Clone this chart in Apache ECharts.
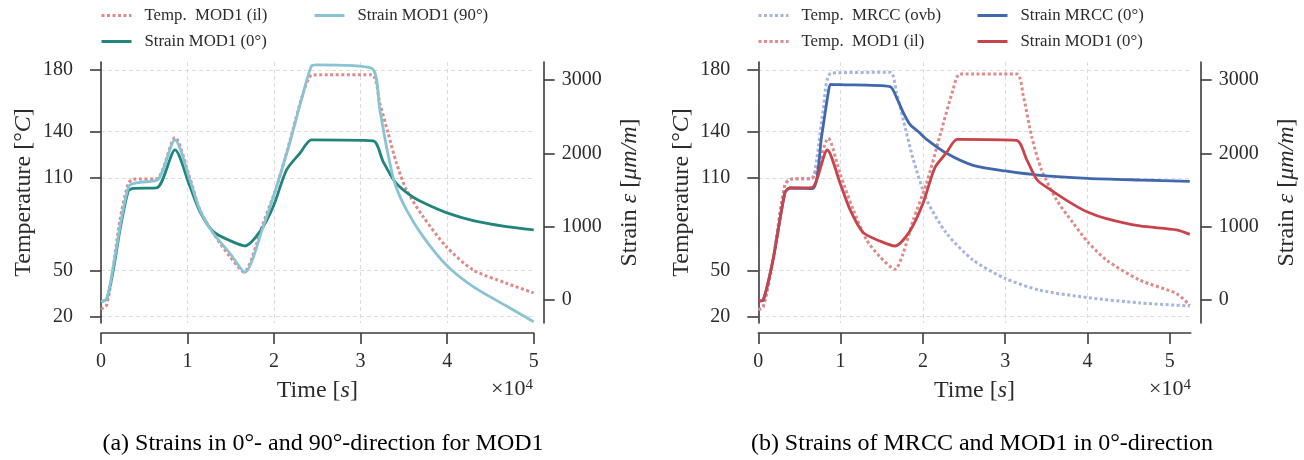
<!DOCTYPE html>
<html>
<head>
<meta charset="utf-8">
<script src="https://cdn.jsdelivr.net/npm/echarts@6/dist/echarts.min.js"></script>
<style>
  html, body { margin: 0; padding: 0; background: #fff; }
  #chart { width: 1304px; height: 460px; }
</style>
</head>
<body>
<div id="chart"></div>
<script>
// tick values
const timeTicks = [0, 10000, 20000, 30000, 40000, 50000];
const tempTicks = [20, 50, 110, 140, 180];
const strainTicks = [0, 1000, 2000, 3000];

// (a) MOD1 in 0 and 90 degree direction
const aTempTime = [0, 650, 1420, 2190, 3160, 3730, 6430, 8550, 10280, 11430, 12970, 14900, 16500, 18740, 20290, 21800, 23360, 24450, 31260, 32220, 33180, 34150, 35300, 37220, 39900, 43000, 46850, 50000];
const aTemp = [24.8, 27.6, 52.4, 82.7, 106.5, 109.1, 109.5, 136.3, 109.8, 89.2, 74.1, 58.9, 49, 80.6, 104.3, 133.5, 164.9, 176.8, 177, 158.4, 139, 119.5, 102.2, 84.9, 65.4, 50.3, 41.7, 35.4];

const aStrain0Time = [0, 650, 1420, 2190, 3160, 3730, 6430, 8550, 10280, 11430, 12970, 14900, 16630, 18360, 19900, 21440, 22980, 24330, 31450, 32600, 33950, 35680, 37220, 39900, 43000, 46850, 50000];
const aStrain0 = [-23, 9, 409, 955, 1487, 1523, 1528, 2046, 1546, 1205, 932, 809, 737, 932, 1273, 1773, 2001, 2182, 2169, 1887, 1614, 1432, 1328, 1191, 1082, 1000, 955];

const aStrain90Time = [0, 650, 1420, 2190, 2970, 3350, 4500, 6620, 8550, 10280, 11430, 12970, 14900, 16630, 18740, 20290, 21800, 23360, 24330, 24900, 31260, 32220, 32990, 33950, 35300, 37220, 39900, 43000, 46850, 50000];
const aStrain90 = [-23, 9, 455, 1000, 1455, 1569, 1605, 1646, 2182, 1637, 1228, 909, 636, 378, 1000, 1546, 2137, 2819, 3192, 3205, 3160, 2592, 2091, 1591, 1228, 864, 477, 182, -82, -296];

// (b) MRCC and MOD1 in 0 degree direction
const bTempMrccTime = [0, 600, 1800, 3240, 4050, 6480, 7090, 7900, 8900, 16000, 16800, 17600, 18830, 20450, 22870, 26100, 30000, 34200, 40000, 46360, 52430];
const bTempMrcc = [24.6, 26.3, 56.7, 105.7, 109.3, 109.6, 122, 154.6, 178, 178.5, 165.4, 148, 122, 95.9, 74.1, 56.7, 44.8, 37.2, 32.4, 28.9, 27];

const bTempModTime = [0, 600, 1800, 3240, 4050, 6480, 8500, 9900, 11540, 13160, 14780, 16600, 17600, 18830, 20450, 22060, 23680, 24500, 31380, 32200, 33200, 34400, 36230, 38260, 40000, 42300, 46360, 50800, 52430];
const bTempMod = [24.6, 26.3, 56.7, 105.7, 109.3, 109.6, 135.7, 113.3, 89.3, 69.8, 58.9, 50.7, 61, 82.8, 106.7, 137.2, 167.6, 177.4, 177.4, 163.3, 137.2, 115.4, 95.9, 80.7, 68.7, 56.7, 43.7, 35, 27.4];

const bStrainMrccTime = [0, 600, 1800, 3240, 3850, 6600, 7700, 8500, 8790, 9900, 16000, 16800, 17600, 18420, 19500, 20450, 22870, 26100, 30000, 34200, 40000, 46360, 52430];
const bStrainMrcc = [-14, 0, 554, 1463, 1527, 1518, 2236, 2827, 2941, 2936, 2909, 2760, 2560, 2395, 2290, 2191, 2000, 1836, 1759, 1700, 1659, 1636, 1618];

const bStrainModTime = [0, 600, 1800, 3240, 3850, 6480, 8380, 9920, 11130, 12750, 14780, 16600, 18420, 20040, 21460, 22870, 24170, 31380, 32600, 33890, 35430, 38260, 40000, 42300, 46360, 50800, 52430];
const bStrainMod = [-14, 0, 554, 1463, 1527, 1532, 2045, 1600, 1236, 918, 804, 736, 941, 1327, 1804, 2009, 2191, 2177, 1918, 1636, 1509, 1304, 1200, 1109, 1009, 955, 895];

const legendText = {
  aTemp: 'Temp.  MOD1 (il)',
  aStrain0: 'Strain MOD1 (0°)',
  aStrain90: 'Strain MOD1 (90°)',
  bTempMrcc: 'Temp.  MRCC (ovb)',
  bTempMod: 'Temp.  MOD1 (il)',
  bStrainMrcc: 'Strain MRCC (0°)',
  bStrainMod: 'Strain MOD1 (0°)'
};

const serif = 'Liberation Serif';
const ink = '#2b2b2b';
const axisColor = '#3c3c3c';
const gridLine = { color: '#dcdcdc', width: 1, type: [4, 3] };

function pairs(ts, vs) {
  return ts.map(function (t, i) { return [t, vs[i]]; });
}

function line(name, xi, yi, ts, vs, color, dotted) {
  return {
    name: name,
    type: 'line',
    xAxisIndex: xi,
    yAxisIndex: yi,
    data: pairs(ts, vs),
    symbol: 'none',
    smooth: 0.25,
    silent: true,
    lineStyle: {
      color: color,
      width: dotted ? 3 : 2.8,
      type: dotted ? [3, 2.5] : 'solid'
    },
    itemStyle: { color: color }
  };
}

function nameStyle() {
  return {
    fontFamily: serif, fontSize: 24, color: ink,
    rich: { i: { fontFamily: serif, fontSize: 24, fontStyle: 'italic', color: ink } }
  };
}

function timeAxis(grid, max) {
  return {
    type: 'value',
    gridIndex: grid,
    min: 0,
    max: max,
    interval: 10000,
    offset: 10,
    name: 'Time [{i|s}]',
    nameLocation: 'middle',
    nameGap: 46,
    nameTextStyle: nameStyle(),
    axisLine: { show: true, onZero: false, lineStyle: { color: axisColor, width: 1.6 } },
    axisTick: { show: true, length: 11, customValues: timeTicks, lineStyle: { color: axisColor, width: 1.6 } },
    axisLabel: {
      customValues: timeTicks,
      margin: 19,
      fontFamily: serif, fontSize: 20, color: ink,
      formatter: function (v) { return String(v / 10000); }
    },
    splitLine: { show: true, showMaxLine: false, lineStyle: gridLine }
  };
}

function tempAxis(grid) {
  return {
    type: 'value',
    gridIndex: grid,
    position: 'left',
    offset: 10,
    min: 15.9,
    max: 185.2,
    name: 'Temperature [°{i|C}]',
    nameLocation: 'middle',
    nameGap: 55,
    nameTextStyle: nameStyle(),
    axisLine: { show: true, lineStyle: { color: axisColor, width: 1.6 } },
    axisTick: { show: true, length: 11, customValues: tempTicks, lineStyle: { color: axisColor, width: 1.6 } },
    axisLabel: {
      customValues: tempTicks, margin: 18, fontFamily: serif, fontSize: 20, color: ink,
      formatter: function (v) { return String(v); }
    },
    splitLine: { show: true, lineStyle: gridLine }
  };
}

function strainAxis(grid) {
  return {
    type: 'value',
    gridIndex: grid,
    position: 'right',
    offset: 10,
    min: -314,
    max: 3245,
    name: 'Strain {i|ε} [{i|μm/m}]',
    nameLocation: 'middle',
    nameGap: 74,
    nameRotate: 90,
    nameTextStyle: nameStyle(),
    axisLine: { show: true, lineStyle: { color: axisColor, width: 1.6 } },
    axisTick: { show: true, length: 11, customValues: strainTicks, lineStyle: { color: axisColor, width: 1.6 } },
    axisLabel: {
      customValues: strainTicks, margin: 18, fontFamily: serif, fontSize: 20, color: ink,
      formatter: function (v) { return String(v); }
    },
    splitLine: { show: false }
  };
}

function legendBox(left, names) {
  return {
    orient: 'vertical',
    left: left,
    top: 7,
    padding: 0,
    data: names,
    itemWidth: 30,
    itemHeight: 14,
    itemGap: 9,
    selectedMode: false,
    itemStyle: { opacity: 0 },
    lineStyle: { width: 3 },
    formatter: function (n) { return legendText[n]; },
    textStyle: { fontFamily: serif, fontSize: 16.8, color: ink, padding: [0, 0, 0, 8] }
  };
}

const chart = echarts.init(document.getElementById('chart'));

const expStyle = {
  text: '×10{s|4}', align: 'right', verticalAlign: 'middle',
  fontFamily: serif, fontSize: 22, fill: ink,
  rich: { s: { fontFamily: serif, fontSize: 15, fill: ink, verticalAlign: 'top', padding: [0, 0, 8, 0] } }
};

function caption(x, text) {
  return {
    type: 'text', x: x, y: 444,
    style: { text: text, align: 'center', verticalAlign: 'middle', fontFamily: serif, fontSize: 24, fill: '#000' }
  };
}

chart.setOption({
  backgroundColor: '#fff',
  animation: false,
  grid: [
    { left: 101, top: 62, width: 432.7, height: 261, outerBoundsMode: 'none' },
    { left: 758.3, top: 62, width: 432.4, height: 261, outerBoundsMode: 'none' }
  ],
  xAxis: [timeAxis(0, 50000), timeAxis(1, 52540)],
  yAxis: [tempAxis(0), strainAxis(0), tempAxis(1), strainAxis(1)],
  legend: [
    legendBox(100, ['aTemp', 'aStrain0']),
    legendBox(313, ['aStrain90']),
    legendBox(757, ['bTempMrcc', 'bTempMod']),
    legendBox(976, ['bStrainMrcc', 'bStrainMod'])
  ],
  graphic: [
    { type: 'text', x: 533, y: 389, style: expStyle },
    { type: 'text', x: 1191, y: 389, style: expStyle },
    caption(323, '(a) Strains in 0°- and 90°-direction for MOD1'),
    caption(982, '(b) Strains of MRCC and MOD1 in 0°-direction')
  ],
  series: [
    line('aTemp', 0, 0, aTempTime, aTemp, '#dd8b8b', true),
    line('aStrain0', 0, 1, aStrain0Time, aStrain0, '#22857c', false),
    line('aStrain90', 0, 1, aStrain90Time, aStrain90, '#8ac3d3', false),
    line('bTempMrcc', 1, 2, bTempMrccTime, bTempMrcc, '#a5b5de', true),
    line('bTempMod', 1, 2, bTempModTime, bTempMod, '#dd8b8b', true),
    line('bStrainMrcc', 1, 3, bStrainMrccTime, bStrainMrcc, '#4068ae', false),
    line('bStrainMod', 1, 3, bStrainModTime, bStrainMod, '#c7444a', false)
  ]
});
</script>
</body>
</html>
